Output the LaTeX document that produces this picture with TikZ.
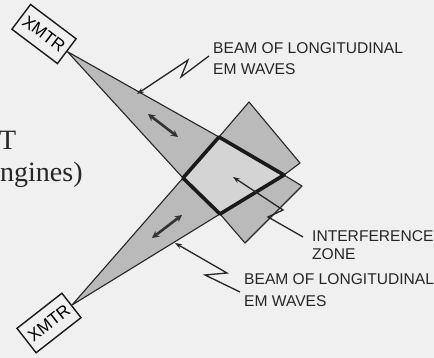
\documentclass[tikz,border=0pt]{standalone}
\usepackage{fontspec}
\newfontfamily\labfont{Liberation Sans}
\newfontfamily\serfont{Liberation Serif}
\usetikzlibrary{arrows.meta}
\definecolor{paper}{gray}{0.94}
\definecolor{beamgray}{gray}{0.73}
\definecolor{zonegray}{gray}{0.83}
\tikzset{
  lab/.style={font=\labfont\fontsize{15.6}{18}\selectfont, inner sep=0pt, anchor=base west, text=black!85},
  sertext/.style={font=\serfont\fontsize{28}{32}\selectfont, inner sep=0pt, anchor=base west, text=black!85},
  beamshape/.style={fill=beamgray, draw=black!85, line width=1.1pt, line join=round},
  zoneshape/.style={fill=zonegray, draw=black!90, line width=3.6pt, line join=round},
  leader/.style={draw=black!85, line width=1.3pt, line join=miter, -{Stealth[length=7pt,width=5pt]}},
  dblarrow/.style={draw=black!80, line width=2.6pt, {Stealth[length=7pt,width=7pt]}-{Stealth[length=7pt,width=7pt]}},
  xmtrbox/.style={draw=black!90, line width=1.4pt, fill=paper, minimum width=57pt, minimum height=31pt, inner sep=0pt, font=\labfont\fontsize{17}{18}\selectfont}
}
\begin{document}
\begin{tikzpicture}[x=1pt,y=-1pt]
\fill[paper] (0,0) rectangle (434,358);
\useasboundingbox (0,0) rectangle (434,358);

% transmitters
\node[xmtrbox, rotate=-37] (xa) at (44,34) {XMTR};
\node[xmtrbox, rotate=38] (xb) at (49,323) {XMTR};

% key points
\coordinate (T) at (219,137);
\coordinate (L) at (183,178);
\coordinate (B) at (220,214);
\coordinate (R) at (284,175);
\coordinate (P1) at (249,102);
\coordinate (P2) at (300,163);
\coordinate (P3) at (245,243);
\coordinate (P4) at (302,186);

% beams
\path[beamshape] (xa.east) -- (T) -- (L) -- cycle;
\path[beamshape] (xb.east) -- (L) -- (B) -- cycle;
\path[beamshape] (T) -- (P1) -- (P2) -- (R) -- cycle;
\path[beamshape] (B) -- (P3) -- (P4) -- (R) -- cycle;
\path[zoneshape] (T) -- (R) -- (B) -- (L) -- cycle;

% double arrows in beams
\coordinate (da1) at (148,114);
\coordinate (da2) at (178,137);
\coordinate (db1) at (152,238);
\coordinate (db2) at (182,215);
\draw[dblarrow] (da1) -- (da2);
\draw[dblarrow] (db1) -- (db2);

% labels
\node[lab] (ta1) at (213,54) {BEAM OF LONGITUDINAL};
\node[lab] (ta2) at (213,75) {EM WAVES};
\node[lab] (ti1) at (312,242) {INTERFERENCE};
\node[lab] (ti2) at (312,260) {ZONE};
\node[lab] (tb1) at (244,285) {BEAM OF LONGITUDINAL};
\node[lab] (tb2) at (244,307) {EM WAVES};

% leaders
\coordinate (la0) at (209,56);
\coordinate (la1) at (181,77);
\coordinate (la2) at (188,60);
\coordinate (la3) at (137,94);
\draw[leader] (la0) -- (la1) -- (la2) -- (la3);
\coordinate (li0) at (303,237);
\coordinate (li1) at (268,217);
\coordinate (li2) at (283,210);
\coordinate (li3) at (233,177);
\draw[leader] (li0) -- (li1) -- (li2) -- (li3);
\coordinate (lb0) at (240,292);
\coordinate (lb1) at (205,275);
\coordinate (lb2) at (227,273);
\coordinate (lb3) at (175,243);
\draw[leader] (lb0) -- (lb1) -- (lb2) -- (lb3);

% partial background text
\node[sertext] (st) at (-1,150) {T};
\node[sertext] (ng) at (0,182) {ngines)};
\end{tikzpicture}
\end{document}
